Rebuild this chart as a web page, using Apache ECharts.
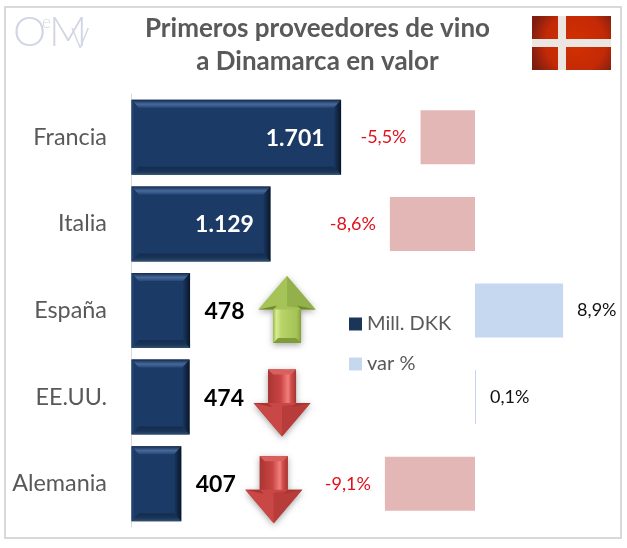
<!DOCTYPE html>
<html><head><meta charset="utf-8">
<style>html,body{margin:0;padding:0;background:#fff}#c{width:627px;height:548px}</style>
<script src="https://cdn.jsdelivr.net/npm/echarts@6/dist/echarts.min.js"></script>
</head><body><div id="c"></div>
<script>
const categories = ['Francia','Italia','España','EE.UU.','Alemania'];
const millDKK = [1701,1129,478,474,407];
const millLabels = ['1.701','1.129','478','474','407'];
const varPct = [-5.5,-8.6,8.9,0.1,-9.1];
const varLabels = ['-5,5%','-8,6%','8,9%','0,1%','-9,1%'];
const trend = [null,null,'up','down','down'];
const titleLines = ['Primeros proveedores de vino','a Dinamarca en valor'];

const FONT = 'Lato, Carlito, sans-serif';
const chart = echarts.init(document.getElementById('c'), null, {renderer:'canvas'});

function grad(x2,y2,stops){return {type:'linear',x:0,y:0,x2:x2,y2:y2,colorStops:stops.map((s,i)=>({offset:s[0],color:s[1]}))};}
function poly(points,fill,extra){return Object.assign({type:'polygon',shape:{points},style:{fill}},extra||{});}

function renderBar(params,api){
  const i=api.value(1), v=api.value(0);
  const end=api.coord([v,i]), start=api.coord([0,i]);
  const h=api.size([0,1])[1]*0.866;
  const x0=start[0]+0.5,x1=end[0],y0=end[1]-h/2,y1=end[1]+h/2;
  const b=8,s=7;
  const kids=[
    {type:'rect',shape:{x:x0,y:y0,width:x1-x0,height:y1-y0},style:{fill:'#1b3a66'}},
    poly([[x0,y0],[x1,y0],[x1-s,y0+b],[x0+s,y0+b]],grad(0,1,[[0,'#14294d'],[0.55,'#47699a'],[1,'#27487a']])),
    poly([[x0,y1],[x1,y1],[x1-s,y1-b],[x0+s,y1-b]],grad(0,1,[[0,'#132c50'],[0.6,'#1a3558'],[1,'#33516f']])),
    poly([[x1,y0],[x1,y1],[x1-s,y1-b],[x1-s,y0+b]],grad(1,0,[[0,'#1a3760'],[1,'#0a1628']])),
    poly([[x0,y0],[x0,y1],[x0+s,y1-b],[x0+s,y0+b]],grad(1,0,[[0,'#2a4a74'],[0.4,'#1b3a66'],[1,'#1b3a66']]))
  ];
  const big=v>1000;
  kids.push({type:'text',style:{
    text:millLabels[i],
    x:big?x1-16.5:x1+54.5,y:end[1]+1,
    align:'right',verticalAlign:'middle',
    fill:big?'#ffffff':'#000000',
    font:'bold 23px '+FONT}});
  return {type:'group',children:kids};
}

function renderArrow(params,api){
  const i=api.value(1), dir=trend[i];
  if(!dir) return null;
  const p=api.coord([api.value(0),i]);
  const up=dir==='up';
  const cx=p[0]+(up?97:92.5), cy=p[1]+(up?-1:6);
  const hw=28.5,sw=14,H=33.5;
  const sgn=up?-1:1;
  const tip=[cx,cy+sgn*H], base=cy, tail=cy-sgn*H;
  const d=5;
  const shaftFill=up
    ? grad(1,0,[[0,'#9cba4f'],[0.12,'#d8ec90'],[0.3,'#b9d468'],[0.85,'#a4c256'],[1,'#82a03a']])
    : grad(1,0,[[0,'#a93533'],[0.45,'#c84543'],[0.72,'#f27f7c'],[0.82,'#d0504d'],[1,'#a93432']]);
  const wingL=up?'#a6c358':'#c94744', wingR=up?'#93b14a':'#b73c3a';
  const edge=up?'#6d8a2c':'#a83331';
  const kids=[
    poly([[cx-hw,base],tip,[cx+hw,base],[cx+sw,base],[cx+sw,tail],[cx-sw,tail],[cx-sw,base]],wingL,
      {style:{fill:wingL,shadowBlur:6,shadowColor:'rgba(0,0,0,0.35)',shadowOffsetY:2}}),
    poly([[cx-sw,tail],[cx+sw,tail],[cx+sw,base],[cx-sw,base]],shaftFill),
    poly([[cx-sw,tail],[cx+sw,tail],[cx+sw-d,tail+sgn*d],[cx-sw+d,tail+sgn*d]],up?'#7f9c38':'#d9605d'),
    poly([[cx-hw,base],tip,[cx,base+sgn*3]],wingL),
    poly([[cx+hw,base],tip,[cx,base+sgn*3]],wingR),
    poly([[cx-hw,base],[cx-sw,base],[cx-sw+4,base+sgn*4]],edge),
    poly([[cx+hw,base],[cx+sw,base],[cx+sw-4,base+sgn*4]],edge)
  ];
  return {type:'group',children:kids};
}

const option={
  animation:false,
  backgroundColor:'#ffffff',
  grid:[
    {left:131,top:94,width:247,height:433,containLabel:false},
    {left:376,top:94,width:198,height:433,containLabel:false}
  ],
  xAxis:[
    {gridIndex:0,type:'value',min:0,max:2000,show:false},
    {gridIndex:1,type:'value',min:-10,max:10,show:false}
  ],
  yAxis:[
    {gridIndex:0,type:'category',inverse:true,data:categories,
     axisLine:{show:true,lineStyle:{color:'#d9d9d9',width:1}},axisTick:{show:false},
     axisLabel:{color:'#595959',fontFamily:FONT,fontSize:23.4,margin:24}},
    {gridIndex:1,type:'category',inverse:true,data:categories,show:false}
  ],
  legend:{
    orient:'vertical',left:344,top:309,itemWidth:13,itemHeight:13,itemGap:20,
    icon:'rect',
    textStyle:{color:'#595959',fontFamily:FONT,fontSize:20},
    data:[{name:'Mill. DKK',itemStyle:{color:'#1b3558'}},{name:'var %',itemStyle:{color:'#c6d8ef'}}]
  },
  series:[
    {name:'Mill. DKK',type:'custom',xAxisIndex:0,yAxisIndex:0,clip:false,
     encode:{x:0,y:1},itemStyle:{color:'#1b3558'},
     data:millDKK.map((v,i)=>[v,i]),renderItem:renderBar},
    {name:'tendencia',type:'custom',xAxisIndex:0,yAxisIndex:0,clip:false,
     encode:{x:0,y:1},
     data:millDKK.map((v,i)=>[v,i]),renderItem:renderArrow},
    {name:'var %',type:'bar',xAxisIndex:1,yAxisIndex:1,barWidth:54,
     itemStyle:{color:'#c6d8ef'},
     data:varPct.map((v,i)=>({
       value:v,
       itemStyle:{color:v<0?'#e4b7b7':'#c6d8ef'},
       label:{show:true,position:v<0?'left':'right',distance:14,
         formatter:varLabels[i],
         color:v<0?'#e0101c':'#111111',fontFamily:FONT,fontSize:18}
     }))}
  ],
  graphic:[
    {type:'rect',z:-1,silent:true,shape:{x:5,y:7,width:616,height:531},
      style:{fill:'#ffffff',stroke:'#d9d9d9',lineWidth:2}},
    {type:'text',x:317.5,y:16,style:{text:titleLines[0],fill:'#595959',font:'bold 26px '+FONT,align:'center'}},
    {type:'text',x:317.5,y:49,style:{text:titleLines[1],fill:'#595959',font:'bold 26px '+FONT,align:'center'}},
    {type:'text',silent:true,x:13,y:11,style:{text:'O',fill:'#d2d6e4',font:'300 42px '+FONT}},
    {type:'text',silent:true,x:42,y:14,style:{text:'e',fill:'#d2d6e4',font:'300 17px '+FONT}},
    {type:'text',silent:true,x:49,y:11,style:{text:'M',fill:'#d2d6e4',font:'300 42px '+FONT}},
    {type:'text',silent:true,x:71,y:25,style:{text:'V',fill:'#d2d6e4',font:'300 28px '+FONT}},
    {type:'rect',silent:true,shape:{x:532,y:16,width:79,height:54},
      style:{fill:{type:'radial',x:0.55,y:0.5,r:0.85,colorStops:[{offset:0,color:'#d23000'},{offset:0.65,color:'#c42a06'},{offset:1,color:'#7e1e10'}]}}},
    {type:'rect',silent:true,shape:{x:558,y:16,width:8,height:54},style:{fill:'#ece6e2'}},
    {type:'rect',silent:true,shape:{x:532,y:39,width:79,height:8},style:{fill:'#ece6e2'}}
  ]
};
chart.setOption(option);
</script></body></html>
